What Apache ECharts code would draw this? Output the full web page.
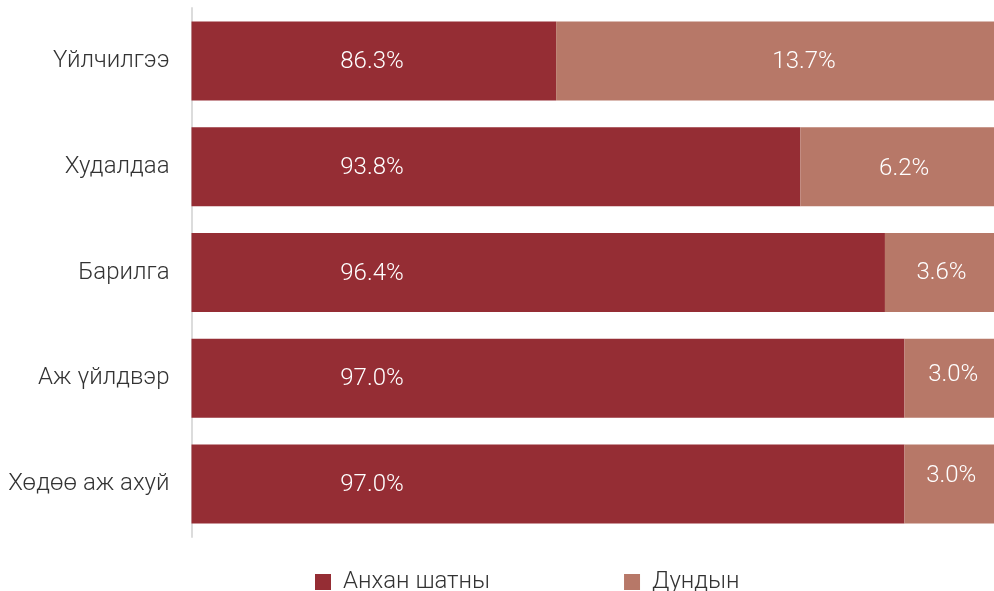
<!DOCTYPE html>
<html>
<head>
<meta charset="utf-8">
<script src="https://cdn.jsdelivr.net/npm/echarts@6/dist/echarts.min.js"></script>
<style>
html,body{margin:0;padding:0;background:#fff;}
#chart{width:994px;height:591px;}
</style>
</head>
<body>
<div id="chart"></div>
<script>
const categories = ['Үйлчилгээ', 'Худалдаа', 'Барилга', 'Аж үйлдвэр', 'Хөдөө аж ахуй'];
const seriesNames = ['Анхан шатны', 'Дундын'];
const primaryValues = [86.3, 93.8, 96.4, 97.0, 97.0];
const secondaryValues = [13.7, 6.2, 3.6, 3.0, 3.0];
const secondaryLabelOffsets = [[29, 1], [7, 2], [2, 0], [4, -3], [2, -8]];

const FONT = 'Roboto';
const FS = 24;
const chart = echarts.init(document.getElementById('chart'), null, {renderer: 'canvas'});
const fmt = p => p.value.toFixed(1) + '%';

chart.setOption({
  animation: false,
  textStyle: {fontFamily: FONT},
  grid: {left: 191.5, right: 0, top: 8, bottom: 54, containLabel: false},
  legend: {
    left: 315, top: 570, padding: 0,
    icon: 'rect', itemWidth: 16, itemHeight: 16, itemGap: 134,
    textStyle: {fontFamily: FONT, fontSize: FS, fontWeight: 300, color: '#333', padding: [0, 0, 0, 7]},
    data: seriesNames
  },
  xAxis: {
    type: 'value', min: 75.1, max: 99.75,
    show: false
  },
  yAxis: {
    type: 'category', inverse: true, data: categories,
    axisLine: {show: true, lineStyle: {color: '#dcdcdc', width: 2}},
    axisTick: {show: false},
    axisLabel: {margin: 22, fontFamily: FONT, fontSize: FS, fontWeight: 300, color: '#333'}
  },
  series: [
    {
      name: seriesNames[0], type: 'bar', stack: 'total', barWidth: 79, clip: true,
      itemStyle: {color: '#952D34'},
      label: {
        show: true, position: [180.5, '50%'], align: 'center', verticalAlign: 'middle',
        offset: [0, 1],
        color: '#fff', fontFamily: FONT, fontSize: FS, fontWeight: 300, formatter: fmt
      },
      data: primaryValues
    },
    {
      name: seriesNames[1], type: 'bar', stack: 'total', barWidth: 79, clip: true,
      itemStyle: {color: '#B77868'},
      label: {
        show: true, position: 'inside',
        color: '#fff', fontFamily: FONT, fontSize: FS, fontWeight: 300, formatter: fmt
      },
      data: secondaryValues.map((v, i) => ({value: v, label: {offset: secondaryLabelOffsets[i]}}))
    }
  ]
});
</script>
</body>
</html>
